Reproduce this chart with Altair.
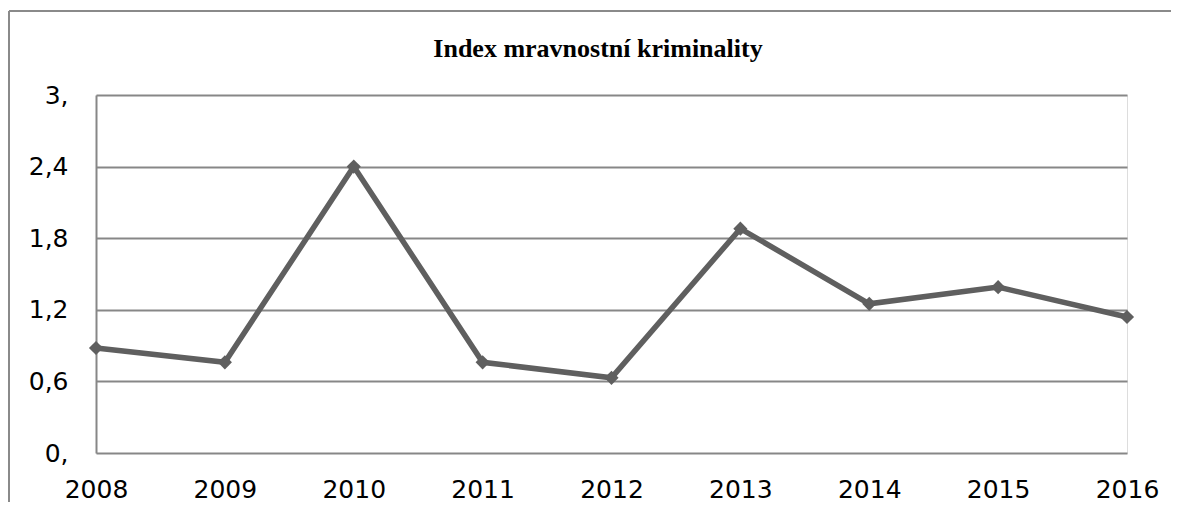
import altair as alt
import pandas as pd

# ---- data ----
years = ["2008", "2009", "2010", "2011", "2012", "2013", "2014", "2015", "2016"]
values = [0.88, 0.76, 2.40, 0.76, 0.63, 1.88, 1.25, 1.39, 1.14]
y_tick_values = [0.0, 0.6, 1.2, 1.8, 2.4, 3.0]
y_tick_labels = ["0,", "0,6", "1,2", "1,8", "2,4", "3,"]
title_text = ["Index mravnostní kriminality"]

df = pd.DataFrame({"rok": years, "index": values})

label_expr = ""
for v, l in zip(y_tick_values, y_tick_labels):
    label_expr += f"abs(datum.value - {v}) < 0.01 ? '{l}' : "
label_expr += "''"

GRID = "#878787"
LINE = "#5f5f5f"
FONT = "DejaVu Sans"

base = alt.Chart(df)

x_enc = alt.X(
    "rok:O",
    sort=years,
    scale=alt.Scale(padding=0),
    axis=alt.Axis(
        title=None,
        labelAngle=0,
        labelFont=FONT,
        labelFontSize=25,
        labelColor="black",
        labelPadding=24,
        labelBaseline="top",
        ticks=False,
        domain=False,
        grid=False,
    ),
)
y_enc = alt.Y(
    "index:Q",
    scale=alt.Scale(domain=[0, 3], nice=False, zero=True),
    axis=alt.Axis(
        title=None,
        values=y_tick_values,
        labelExpr=label_expr,
        labelFont=FONT,
        labelFontSize=25,
        labelColor="black",
        labelPadding=28,
        labelAlign="right",
        labelBaseline="middle",
        ticks=False,
        domain=True,
        domainColor=GRID,
        domainWidth=2,
        grid=True,
        gridColor=GRID,
        gridWidth=2,
    ),
)

line = base.mark_line(color=LINE, strokeWidth=5.5).encode(x=x_enc, y=y_enc)
points = base.mark_point(
    shape="diamond", filled=True, size=200, color=LINE, opacity=1
).encode(x=x_enc, y=y_enc)

one = pd.DataFrame({"b": [0]})
border_top = alt.Chart(one).mark_rule(
    color="#8a8a8a", strokeWidth=2, clip=False
).encode(x=alt.value(-87), x2=alt.value(1300), y=alt.value(-84))
border_left = alt.Chart(one).mark_rule(
    color="#8a8a8a", strokeWidth=2, clip=False
).encode(x=alt.value(-87), y=alt.value(-84), y2=alt.value(600))

title = alt.Chart(pd.DataFrame({"t": title_text})).mark_text(
    font="Liberation Serif",
    fontSize=26,
    fontWeight="bold",
    color="black",
    align="center",
    baseline="alphabetic",
    clip=False,
).encode(text="t:N", x=alt.value(502), y=alt.value(-38))

chart = (
    alt.layer(border_top, border_left, line, points, title)
    .properties(
        width=1031,
        height=358,
        autosize=alt.AutoSizeParams(type="none"),
        padding={"left": 88, "top": 87, "right": 44, "bottom": 49},
    )
    .configure_view(stroke="transparent", strokeWidth=0)
    .configure(background="white")
)

chart.save("out.html", embed_options={"renderer": "svg", "actions": False})
